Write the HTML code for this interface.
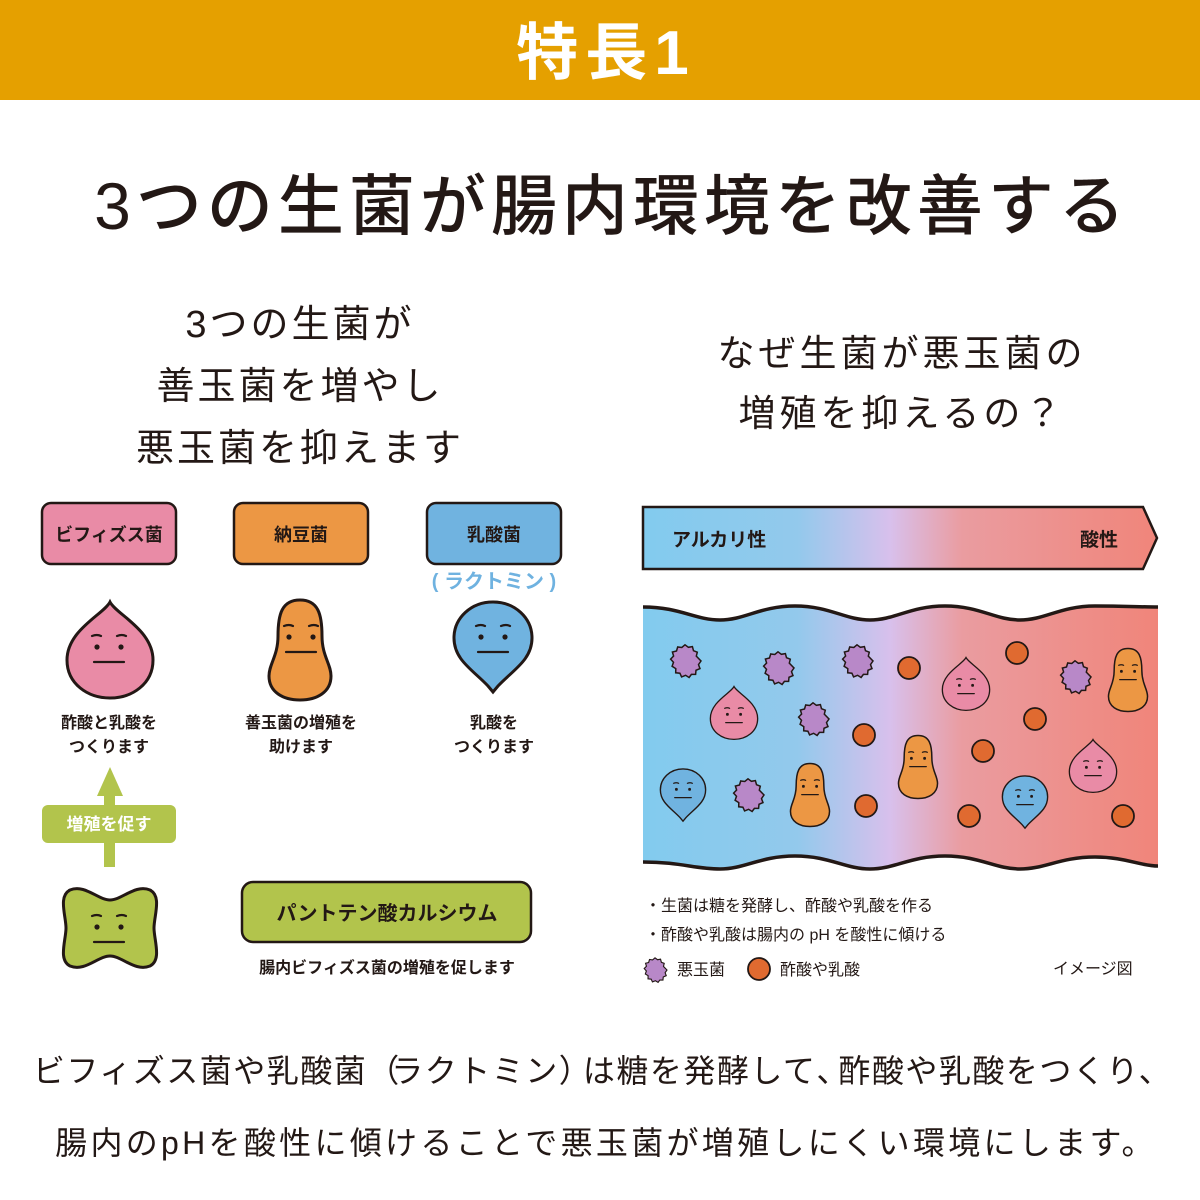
<!DOCTYPE html>
<html><head><meta charset="utf-8"><style>
html,body{margin:0;padding:0;background:#fff;}
body{width:1200px;height:1200px;overflow:hidden;position:relative;font-family:"Liberation Sans","Noto Sans CJK JP",sans-serif;color:#231815;}
.hdr{position:absolute;left:0;top:0;width:1200px;height:100px;background:#e5a000;color:#fff;font-size:62px;font-weight:bold;text-align:center;line-height:108px;letter-spacing:7px;}
.t{position:absolute;white-space:nowrap;text-align:center;}
</style></head><body>
<div class="hdr"><span style="position:relative;left:6px">特長1</span></div>
<div class="t" style="left:6px;width:1212px;top:166px;font-size:66px;font-weight:500;letter-spacing:5px;line-height:80px;">3つの生菌が腸内環境を改善する</div>
<div class="t" style="left:100px;width:400px;top:294px;font-size:38px;line-height:62px;letter-spacing:3px;">3つの生菌が<br>善玉菌を増やし<br>悪玉菌を抑えます</div>
<div class="t" style="left:690px;width:424px;top:324px;font-size:37px;line-height:60px;letter-spacing:4px;">なぜ生菌が悪玉菌の<br>増殖を抑えるの？</div>
<div class="t" style="left:0;width:1205px;top:1046px;font-size:32px;line-height:50px;letter-spacing:1.5px;">ビフィズス菌や乳酸菌<span style="letter-spacing:-8px">（</span>ラクトミン<span style="letter-spacing:-8px">）</span>は糖を発酵して<span style="letter-spacing:-10px">、</span>酢酸や乳酸をつくり、</div>
<div class="t" style="left:0;width:1212px;top:1118px;font-size:32px;line-height:50px;letter-spacing:3.3px;">腸内のpHを酸性に傾けることで悪玉菌が増殖しにくい環境にします。</div>

<svg width="1200" height="1200" style="position:absolute;left:0;top:0" xmlns="http://www.w3.org/2000/svg">
<defs>
<linearGradient id="g" x1="643" x2="1158" y1="0" y2="0" gradientUnits="userSpaceOnUse">
<stop offset="0" stop-color="#82cbee"/><stop offset="0.3" stop-color="#93c9ec"/><stop offset="0.48" stop-color="#d8c0ec"/><stop offset="0.62" stop-color="#ea9ca0"/><stop offset="1" stop-color="#f0857a"/></linearGradient>
<path id="drop" d="M0,-48 C6,-36 43,-20 43,10 C43,34 22,48 0,48 C-22,48 -43,34 -43,10 C-43,-20 -6,-36 0,-48Z"/>
<path id="bean" d="M0,-50 C18,-50 22,-36 22,-14 C22,6 31,14 31,26 C31,42 17,50 0,50 C-17,50 -31,42 -31,26 C-31,14 -22,6 -22,-14 C-22,-36 -18,-50 0,-50Z"/>
<path id="tear" d="M0,-38 C22,-38 39,-22 39,-2 C39,20 20,30 5,46 L0,52 L-5,46 C-20,30 -39,20 -39,-2 C-39,-22 -22,-38 0,-38Z"/>
<path id="bone" d="M-40,-38 C-25,-44 -12,-28 0,-28 C12,-28 25,-44 40,-38 C52,-32 44,-12 44,0 C44,12 52,32 40,38 C25,44 12,28 0,28 C-12,28 -25,44 -40,38 C-52,32 -44,12 -44,0 C-44,-12 -52,-32 -40,-38Z"/>
<polygon id="spk" points="16,0 13.5,3.6 15,7.6 11,9.3 10.6,13.4 6.4,13.4 4.1,16.5 0.6,14.3 -3.4,15.9 -5.1,12.2 -9.3,11.8 -9.2,7.6 -12.9,5.3 -11.5,1.3 -14.4,-1.9 -11.4,-5 -12.6,-9 -8.5,-10 -7.3,-14 -3.2,-13.5 0,-16.2 3.4,-13.7 7.4,-14.4 8.5,-10.3 12.3,-8.8 11.3,-4.8"/>
<g id="face" fill="none" stroke="#231815" stroke-width="2.2" stroke-linecap="round">
<path d="M-17,-14 q5,-2 9,0 M8,-14 q5,-2 9,0"/><path d="M-15,12 h30"/>
<circle cx="-12" cy="-3" r="2.6" fill="#231815" stroke="none"/><circle cx="12" cy="-3" r="2.6" fill="#231815" stroke="none"/>
</g>
</defs>

<g stroke="#231815" stroke-width="2.5">
<rect x="42" y="503" width="134" height="61" rx="9" fill="#e98ba6"/>
<rect x="234" y="503" width="134" height="61" rx="9" fill="#ec9744"/>
<rect x="427" y="503" width="134" height="61" rx="9" fill="#70b3e0"/>
<rect x="242" y="882" width="289" height="60" rx="11" fill="#b2c44c"/>
</g>
<g font-family="Liberation Sans,Noto Sans CJK JP,sans-serif" font-weight="bold" text-anchor="middle" fill="#231815">
<text x="109" y="541" font-size="18">ビフィズス菌</text>
<text x="301" y="541" font-size="18">納豆菌</text>
<text x="494" y="541" font-size="18">乳酸菌</text>
<text x="494" y="588" font-size="20" fill="#6fb2e0">( ラクトミン )</text>
<text x="387" y="920" font-size="20">パントテン酸カルシウム</text>
<text x="109" y="728" font-size="16">酢酸と乳酸を</text>
<text x="109" y="752" font-size="16">つくります</text>
<text x="301" y="728" font-size="16">善玉菌の増殖を</text>
<text x="301" y="752" font-size="16">助けます</text>
<text x="494" y="728" font-size="16">乳酸を</text>
<text x="494" y="752" font-size="16">つくります</text>
<text x="387" y="973" font-size="16">腸内ビフィズス菌の増殖を促します</text>
</g>
<rect x="104" y="795" width="11" height="72" fill="#b2c44c"/>
<polygon points="97,796 110,767 123,796" fill="#b2c44c"/>
<rect x="42" y="805" width="134" height="38" rx="6" fill="#b2c44c"/>
<text x="109" y="830" font-size="17" font-weight="bold" fill="#fff" text-anchor="middle" font-family="Liberation Sans,Noto Sans CJK JP,sans-serif">増殖を促す</text>

<g stroke="#231815" stroke-width="3">
<use href="#drop" x="110" y="650" fill="#e98ba6"/>
<use href="#bean" x="300" y="650" fill="#ec9744"/>
<use href="#tear" x="493" y="640" fill="#70b3e0"/>
<use href="#bone" x="110" y="928" fill="#b2c44c"/>
</g>
<use href="#face" x="109" y="650"/>
<use href="#face" x="301" y="640"/>
<use href="#face" x="493" y="640"/>
<use href="#face" x="109" y="930"/>

<polygon points="643,507 1143,507 1157,538 1143,569 643,569" fill="url(#g)" stroke="#231815" stroke-width="2.5"/>
<g font-family="Liberation Sans,Noto Sans CJK JP,sans-serif" font-weight="bold" font-size="19" fill="#231815">
<text x="672" y="546">アルカリ性</text><text x="1080" y="546">酸性</text></g>

<path d="M643,607 C680,607 695,620 720,620 C745,620 760,606 795,606 C830,606 845,620 870,620 C895,620 910,606 945,606 C980,606 995,620 1020,620 C1045,620 1060,606 1095,606 C1125,606 1140,607 1158,607 L1158,866 C1140,866 1125,857 1095,857 C1060,857 1045,869 1020,869 C995,869 980,856 945,856 C910,856 895,869 870,869 C845,869 830,856 795,856 C760,856 745,869 720,869 C695,869 680,862 643,862Z" fill="url(#g)"/>
<path d="M643,607 C680,607 695,620 720,620 C745,620 760,606 795,606 C830,606 845,620 870,620 C895,620 910,606 945,606 C980,606 995,620 1020,620 C1045,620 1060,606 1095,606 C1125,606 1140,607 1158,607" fill="none" stroke="#231815" stroke-width="3.5"/>
<path d="M643,862 C680,862 695,869 720,869 C745,869 760,856 795,856 C830,856 845,869 870,869 C895,869 910,856 945,856 C980,856 995,869 1020,869 C1045,869 1060,857 1095,857 C1125,857 1140,866 1158,866" fill="none" stroke="#231815" stroke-width="3.5"/>

<g fill="#b888c8" stroke="#231815" stroke-width="1.5">
<use href="#spk" x="685" y="661"/><use href="#spk" x="778" y="668"/><use href="#spk" x="857" y="661"/>
<use href="#spk" x="813" y="719"/><use href="#spk" x="748" y="795"/><use href="#spk" x="1075" y="677"/>
</g>
<g fill="#e06a30" stroke="#231815" stroke-width="1.8">
<circle cx="909" cy="668" r="11"/><circle cx="1017" cy="653" r="11"/><circle cx="1035" cy="719" r="11"/>
<circle cx="864" cy="735" r="11"/><circle cx="866" cy="806" r="11"/><circle cx="983" cy="751" r="11"/>
<circle cx="969" cy="816" r="11"/><circle cx="1123" cy="816" r="11"/>
</g>
<g stroke="#231815" stroke-width="2.4">
<use href="#drop" transform="translate(734,713) scale(0.55)" fill="#e98ba6"/>
<use href="#drop" transform="translate(966,684) scale(0.55)" fill="#e98ba6"/>
<use href="#drop" transform="translate(1093,766) scale(0.55)" fill="#e98ba6"/>
<use href="#bean" transform="translate(810,795) scale(0.63)" fill="#ec9744"/>
<use href="#bean" transform="translate(918,767) scale(0.63)" fill="#ec9744"/>
<use href="#bean" transform="translate(1128,680) scale(0.63)" fill="#ec9744"/>
<use href="#tear" transform="translate(683,791) scale(0.58)" fill="#70b3e0"/>
<use href="#tear" transform="translate(1025,798) scale(0.58)" fill="#70b3e0"/>
</g>
<use href="#face" transform="translate(734,716) scale(0.55)"/>
<use href="#face" transform="translate(966,687) scale(0.55)"/>
<use href="#face" transform="translate(1093,769) scale(0.55)"/>
<use href="#face" transform="translate(810,788) scale(0.55)"/>
<use href="#face" transform="translate(918,760) scale(0.55)"/>
<use href="#face" transform="translate(1128,673) scale(0.55)"/>
<use href="#face" transform="translate(683,791) scale(0.55)"/>
<use href="#face" transform="translate(1025,798) scale(0.55)"/>

<g font-family="Liberation Sans,Noto Sans CJK JP,sans-serif" font-size="16" fill="#231815">
<text x="645" y="911">・生菌は糖を発酵し、酢酸や乳酸を作る</text>
<text x="645" y="940">・酢酸や乳酸は腸内の pH を酸性に傾ける</text>
<text x="677" y="975">悪玉菌</text>
<text x="780" y="975">酢酸や乳酸</text>
<text x="1053" y="974">イメージ図</text>
</g>
<use href="#spk" fill="#b888c8" stroke="#231815" stroke-width="1.5" transform="translate(655,970) scale(0.75)"/>
<circle cx="759" cy="969" r="11" fill="#e06a30" stroke="#231815" stroke-width="1.8"/>
</svg>
</body></html>
